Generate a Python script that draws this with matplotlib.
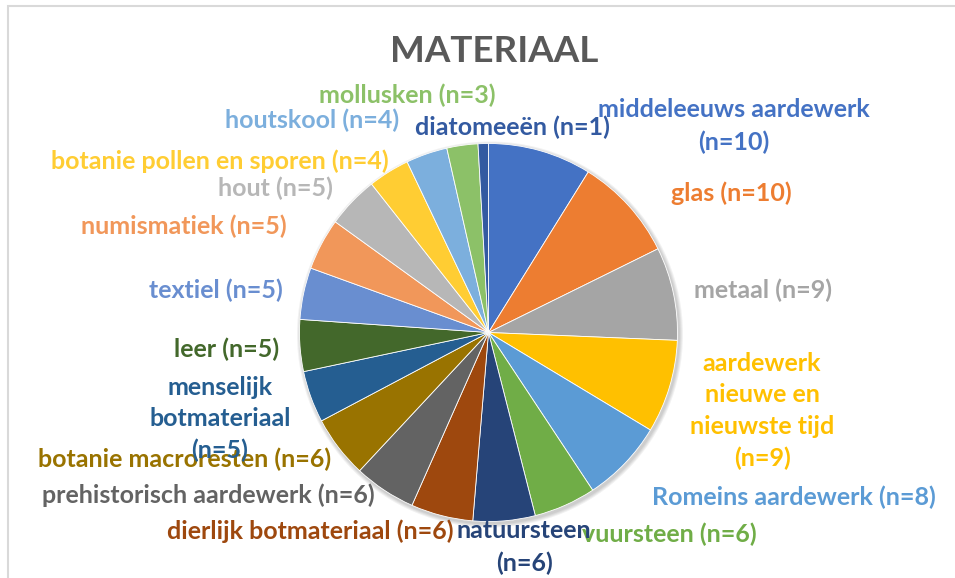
import textwrap
import matplotlib.pyplot as plt
from matplotlib.patches import Circle, Rectangle

# data (clockwise from 12 o'clock)
categories = [
    "middeleeuws aardewerk", "glas", "metaal", "aardewerk nieuwe en nieuwste tijd",
    "Romeins aardewerk", "vuursteen", "natuursteen", "dierlijk botmateriaal",
    "prehistorisch aardewerk", "botanie macroresten", "menselijk botmateriaal",
    "leer", "textiel", "numismatiek", "hout", "botanie pollen en sporen",
    "houtskool", "mollusken", "diatomeeën",
]
counts = [10, 10, 9, 9, 8, 6, 6, 6, 6, 6, 5, 5, 5, 5, 5, 4, 4, 3, 1]

# Excel office palette
colors = [
    "#4472C4", "#ED7D31", "#A5A5A5", "#FFC000", "#5B9BD5", "#70AD47",
    "#264478", "#9E480E", "#636363", "#997300", "#255E91", "#43682B",
    "#698ED0", "#F1975A", "#B7B7B7", "#FFCD33", "#7CAFDD", "#8CC168",
    "#335AA1",
]

# label centres in pixels (from top-left) and wrap width
label_pos = [
    (734, 126), (731, 193), (763, 290), (762, 411), (794, 497), (669, 534),
    (524, 547), (310, 531), (208, 495), (185, 459), (220, 419), (227, 349),
    (216, 290), (184, 226), (275, 188), (220, 161), (312, 120), (407, 95),
    (512, 127),
]
wrap = [22, 0, 0, 14, 0, 0, 14, 0, 0, 0, 14, 0, 0, 0, 0, 0, 0, 0, 0]

W, H = 955, 578
fig = plt.figure(figsize=(W / 100, H / 100), dpi=100)
ax = fig.add_axes([0, 0, 1, 1])

# chart area border (cropped at right and bottom)
ax.add_patch(Rectangle((8, -20), W + 20, H - 6 + 20, fill=False,
                       ec="#D9D9D9", lw=1.5))

cx, cy, r = 488.5, H - 332.5, 189

# soft shadow
for i in range(4):
    ax.add_patch(Circle((cx + 1.5, cy - 2), r + 4 - i, fc="#000000", alpha=0.05, ec="none"))

ax.pie(counts, colors=colors, startangle=90, counterclock=False,
       center=(cx, cy), radius=r, frame=True,
       wedgeprops=dict(edgecolor="white", linewidth=0.6))
ax.set_xlim(0, W)
ax.set_ylim(0, H)
ax.axis('off')

ax.text(494, H - 52, "MATERIAAL", ha='center', va='center', fontsize=26.5,
        fontweight='bold', color="#595959", family="Lato")

for name, n, col, (px, py), w in zip(categories, counts, colors, label_pos, wrap):
    txt = f"{name} (n={n})"
    if w:
        txt = "\n".join(textwrap.wrap(txt, w))
    ax.text(px, H - py, txt, ha='center', va='center', fontsize=18,
            fontweight='bold', color=col, family="Lato", linespacing=1.45)

fig.savefig("out.png", dpi=100)
